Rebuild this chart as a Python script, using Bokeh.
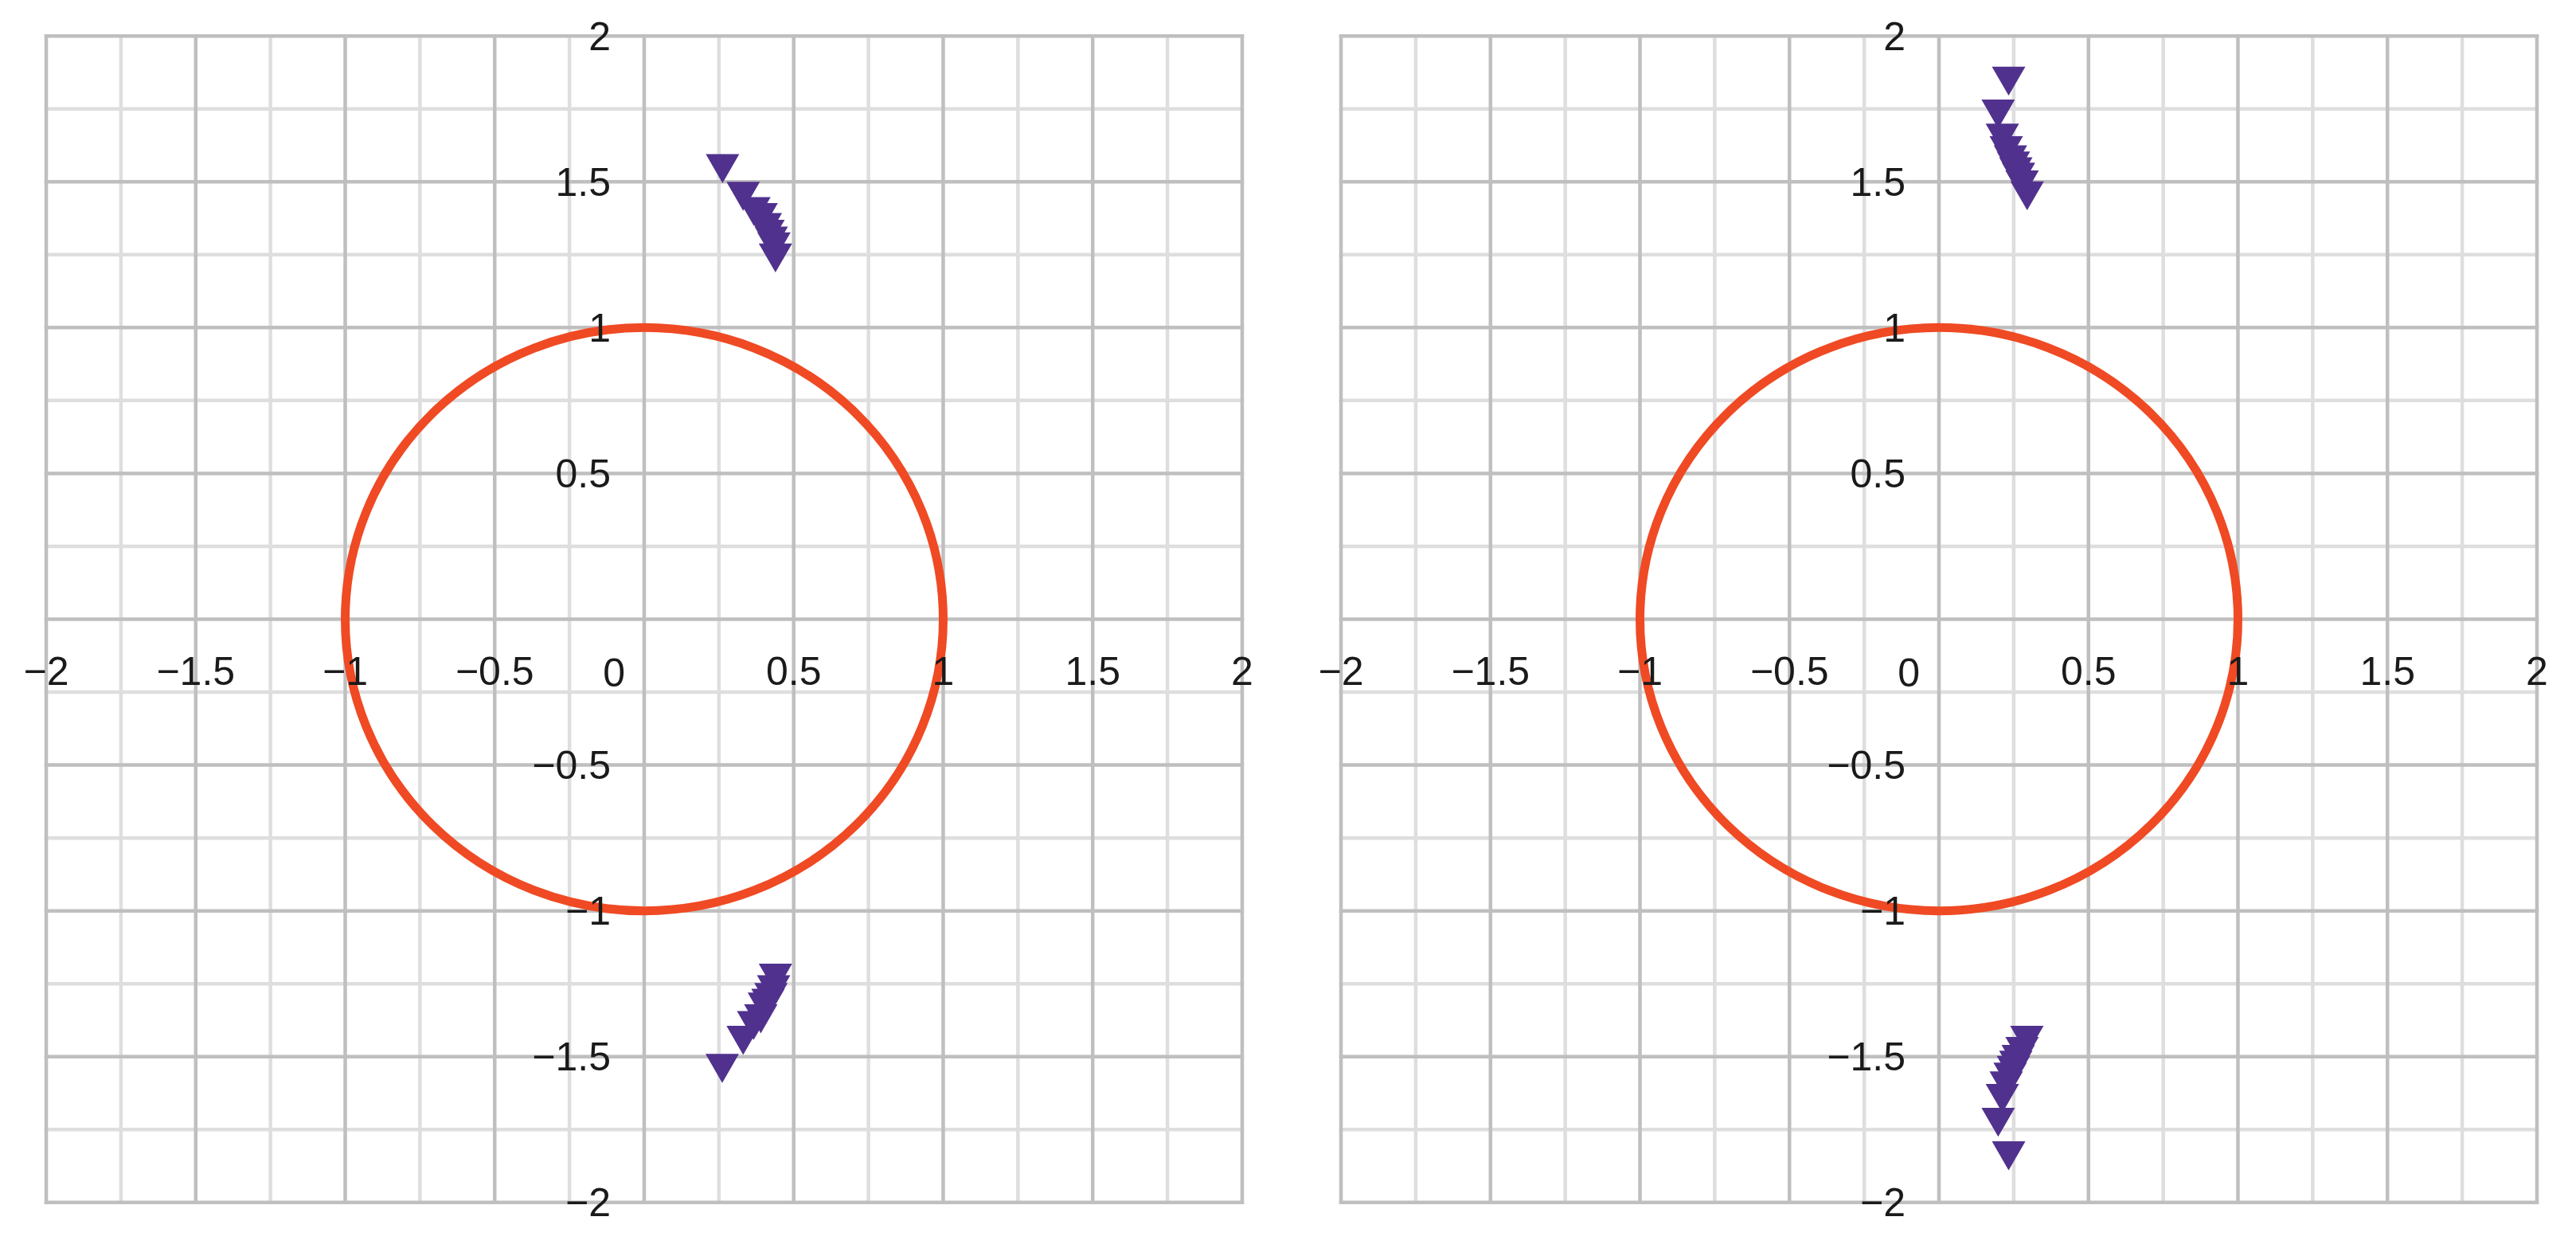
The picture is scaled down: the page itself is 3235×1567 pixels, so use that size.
from bokeh.plotting import figure
from bokeh.models import Range1d, FixedTicker, Label
from bokeh.layouts import row
from bokeh.embed import file_html
from bokeh.resources import INLINE
from bokeh.transform import dodge

# ---- data ----
tick_values = [-2, -1.5, -1, -0.5, 0, 0.5, 1, 1.5, 2]
tick_labels = ["−2", "−1.5", "−1", "−0.5", "", "0.5", "1", "1.5", "2"]
minor_values = [-1.75, -1.25, -0.75, -0.25, 0.25, 0.75, 1.25, 1.75]

circle_x = [0.0]
circle_y = [0.0]
circle_diameter = [2.0]

left_top_x = [0.262, 0.331, 0.367, 0.391, 0.405, 0.414, 0.425, 0.434, 0.439]
left_top_y = [1.545, 1.450, 1.398, 1.377, 1.343, 1.320, 1.297, 1.277, 1.239]
left_bot_x = [0.439, 0.433, 0.424, 0.414, 0.402, 0.390, 0.366, 0.331, 0.261]
left_bot_y = [-1.231, -1.270, -1.297, -1.317, -1.330, -1.370, -1.393, -1.444, -1.540]

right_top_x = [0.233, 0.198, 0.212, 0.225, 0.239, 0.249, 0.257, 0.266, 0.278, 0.295]
right_top_y = [1.845, 1.732, 1.650, 1.607, 1.575, 1.554, 1.534, 1.516, 1.489, 1.452]
right_bot_x = [0.294, 0.278, 0.265, 0.257, 0.249, 0.238, 0.225, 0.212, 0.198, 0.233]
right_bot_y = [-1.444, -1.482, -1.509, -1.529, -1.547, -1.570, -1.600, -1.643, -1.725, -1.840]

FONT = "Liberation Sans"
MAJOR = "#bfbfbf"
MINOR = "#dedede"
RED = "#ef4a24"
PURPLE = "#51318e"


def grid_lines(p, values, color):
    lo, hi = tick_values[0], tick_values[-1]
    n = len(values)
    p.segment(x0=values, y0=[lo] * n, x1=values, y1=[hi] * n,
              line_color=color, line_width=4.5, line_cap="square")
    p.segment(x0=[lo] * n, y0=values, x1=[hi] * n, y1=values,
              line_color=color, line_width=4.5, line_cap="square")


def make_panel(xs, ys, border_left, border_right):
    p = figure(frame_width=1577, frame_height=1516,
               x_range=Range1d(-2.1, 2.1), y_range=Range1d(-2.07, 2.07),
               output_backend="svg", toolbar_location=None,
               min_border_left=border_left, min_border_right=border_right,
               min_border_top=19, min_border_bottom=10,
               outline_line_color=None, background_fill_color="white",
               border_fill_color="white")
    p.grid.visible = False
    ticker = FixedTicker(ticks=tick_values, minor_ticks=minor_values)
    overrides = {v: t for v, t in zip(tick_values, tick_labels)}
    for ax in (p.xaxis[0], p.yaxis[0]):
        ax.ticker = ticker
        ax.fixed_location = 0
        ax.axis_line_color = None
        ax.major_tick_line_color = None
        ax.minor_tick_line_color = None
        ax.major_label_overrides = overrides
        ax.major_label_text_font = FONT
        ax.major_label_text_font_size = "50px"
        ax.major_label_text_color = "#1a1a1a"
    p.xaxis.major_label_standoff = 41
    p.yaxis.major_label_standoff = 36

    grid_lines(p, minor_values, MINOR)
    grid_lines(p, tick_values, MAJOR)

    p.ellipse(x=circle_x, y=circle_y, width=circle_diameter, height=circle_diameter,
              fill_color=None, line_color=RED, line_width=11)

    src = dict(x=xs, y=ys)
    p.scatter(x="x", y=dodge("y", 0.0165), source=src, marker="inverted_triangle",
              size=42, fill_color=PURPLE, line_color=None)

    p.add_layout(Label(x=0, y=0, x_offset=-24, y_offset=-67, text="0",
                       text_align="right", text_baseline="middle",
                       text_font=FONT, text_font_size="50px", text_color="#1a1a1a"))
    return p


p1 = make_panel(left_top_x + left_bot_x, left_top_y + left_bot_y, 20, 25)
p2 = make_panel(right_top_x + right_bot_x, right_top_y + right_bot_y, 24, 4)

layout = row(p1, p2)
open("out.html", "w").write(file_html(layout, INLINE))
